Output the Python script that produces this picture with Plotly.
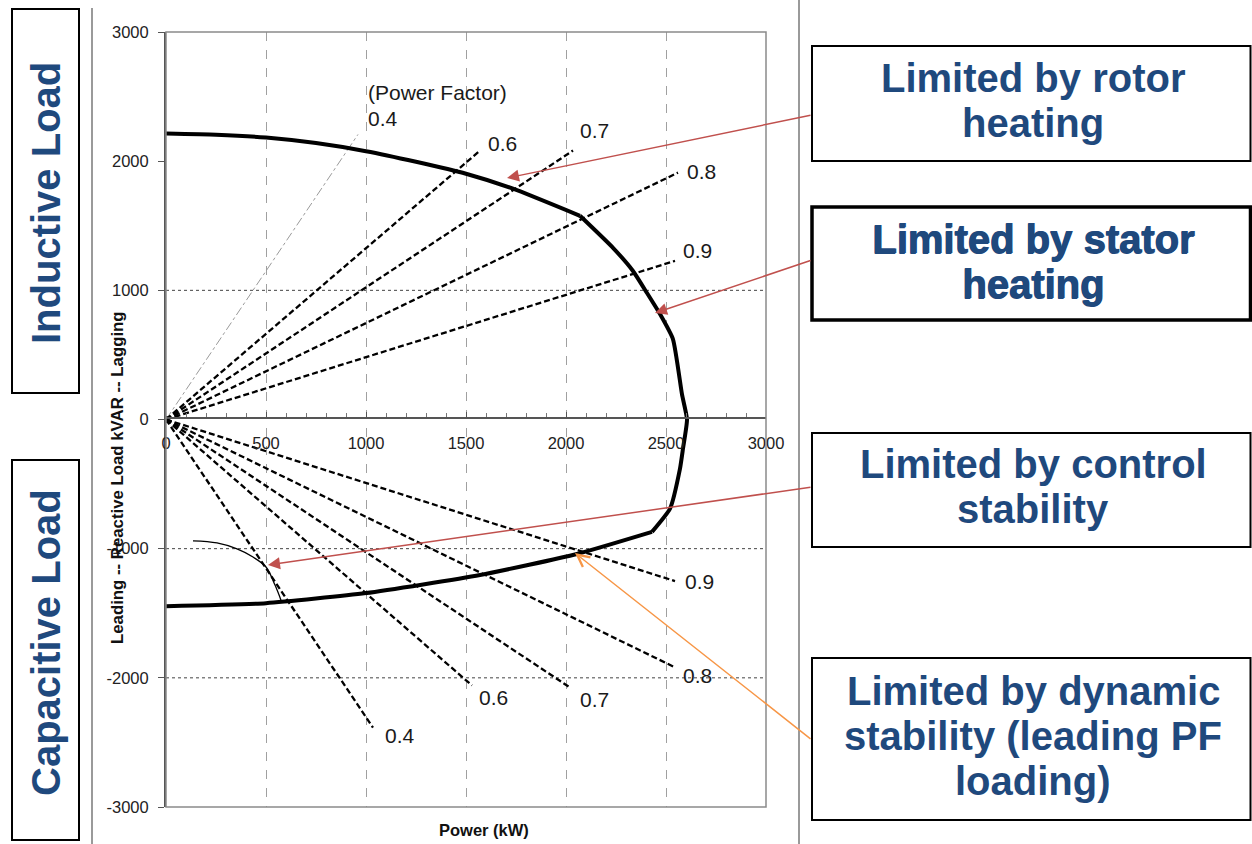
import plotly.graph_objects as go

W, H = 1252, 844

# ---------------- data ----------------
pf_labels = ["0.4", "0.6", "0.7", "0.8", "0.9"]
lag_end_p = [960, 1570, 2035, 2560, 2545]
lag_end_q = [2207, 2082, 2082, 1911, 1228]
lead_end_p = [1035, 1530, 2020, 2545, 2545]
lead_end_q = [-2385, -2059, -2075, -1919, -1251]

# capability curve, in three segments (rotor / stator / control limits)
rotor_p = [0, 250, 500, 750, 1000, 1250, 1500, 1735, 2070]
rotor_q = [2214, 2205, 2183, 2140, 2077, 1995, 1903, 1787, 1577]
stator_p = [2070, 2235, 2335, 2405, 2470, 2535, 2580, 2605, 2585, 2570, 2520, 2430]
stator_q = [1577, 1329, 1150, 979, 816, 621, 194, 0, -225, -380, -690, -870]
control_p = [2430, 2055, 1570, 1000, 500, 0]
control_q = [-870, -1041, -1204, -1344, -1422, -1445]

dyn_p = [135, 255, 355, 435, 500, 545, 575]
dyn_q = [-940, -956, -1002, -1065, -1142, -1282, -1399]

x_ticks = [0, 500, 1000, 1500, 2000, 2500, 3000]
x_tick_text = ["0", "500", "1000", "1500", "2000", "2500", "3000"]
y_ticks = [-3000, -2000, -1000, 0, 1000, 2000, 3000]
y_tick_text = ["-3000", "-2000", "-1000", "0", "1000", "2000", "3000"]
h_grid = [1000, -1000, -2000]

box_texts = [
    ["Limited by rotor", "heating"],
    ["Limited by stator", "heating"],
    ["Limited by control", "stability"],
    ["Limited by dynamic", "stability (leading PF", "loading)"],
]

# ---------------- helpers (pixel -> paper) ----------------
def px(x):
    return x / W

def py(y):
    return 1 - y / H

FONT = "Liberation Sans, Arial, sans-serif"
BLUE = "#1F497D"

fig = go.Figure()

# power factor lines
for i, lab in enumerate(pf_labels):
    if lab == "0.4":
        upper_line = dict(color="#9a9a9a", width=1, dash="dashdot")
    else:
        upper_line = dict(color="black", width=2.3, dash="6px,3px")
    fig.add_trace(go.Scatter(x=[0, lag_end_p[i]], y=[0, lag_end_q[i]], mode="lines",
                             line=upper_line, hoverinfo="skip", showlegend=False))
    fig.add_trace(go.Scatter(x=[0, lead_end_p[i]], y=[0, lead_end_q[i]], mode="lines",
                             line=dict(color="black", width=2.3, dash="6px,3px"),
                             hoverinfo="skip", showlegend=False))

# dynamic stability limit
fig.add_trace(go.Scatter(x=dyn_p, y=dyn_q, mode="lines", line=dict(color="black", width=1.3, shape="spline"),
                         hoverinfo="skip", showlegend=False))
# capability curve
for sp, sq in [(rotor_p, rotor_q), (stator_p, stator_q), (control_p, control_q)]:
    fig.add_trace(go.Scatter(x=sp, y=sq, mode="lines",
                             line=dict(color="black", width=4, shape="spline", smoothing=0.5),
                             hoverinfo="skip", showlegend=False))
# origin
fig.add_trace(go.Scatter(x=[0], y=[0], mode="markers", marker=dict(color="black", size=7),
                         hoverinfo="skip", showlegend=False))

shapes = []
for v in h_grid:
    shapes.append(dict(type="line", xref="x domain", yref="y", x0=0, x1=1, y0=v, y1=v,
                       line=dict(color="#444", width=1, dash="dot"), layer="below"))
shapes.append(dict(type="rect", xref="x domain", yref="y domain", x0=0, x1=1, y0=0, y1=1,
                   line=dict(color="#8a8a8a", width=1.5)))
shapes.append(dict(type="line", xref="paper", yref="paper", x0=px(92), x1=px(92), y0=py(8), y1=py(844),
                   line=dict(color="#9a9a9a", width=2)))
shapes.append(dict(type="line", xref="paper", yref="paper", x0=px(799), x1=px(799), y0=py(0), y1=py(844),
                   line=dict(color="#9a9a9a", width=2)))
for (y0, y1) in [(9, 393), (460, 840)]:
    shapes.append(dict(type="rect", xref="paper", yref="paper", x0=px(12), x1=px(79), y0=py(y1), y1=py(y0),
                       line=dict(color="black", width=2), fillcolor="white", layer="below"))
right_boxes = [(46, 161, 2), (207, 320, 3.5), (433, 547, 2), (658, 820, 2)]
for (y0, y1, lw) in right_boxes:
    shapes.append(dict(type="rect", xref="paper", yref="paper", x0=px(812), x1=px(1250.5), y0=py(y1), y1=py(y0),
                       line=dict(color="black", width=lw), fillcolor="white", layer="below"))

ann = []
lab_font = dict(family=FONT, size=21, color="#1a1a1a")
upper_off = [(8, 16), (6, 7), (5, 20), (7, 1), (6, 10)]
lower_off = [(10, -8), (5, -12), (8, -12), (6, -8), (8, 0)]
for i, lab in enumerate(pf_labels):
    ann.append(dict(x=lag_end_p[i], y=lag_end_q[i], xref="x", yref="y", text=lab, showarrow=False,
                    xanchor="left", yanchor="middle", xshift=upper_off[i][0], yshift=upper_off[i][1], font=lab_font))
    ann.append(dict(x=lead_end_p[i], y=lead_end_q[i], xref="x", yref="y", text=lab, showarrow=False,
                    xanchor="left", yanchor="middle", xshift=lower_off[i][0], yshift=lower_off[i][1], font=lab_font))
ann.append(dict(x=lag_end_p[0], y=lag_end_q[0], xref="x", yref="y", text="(Power Factor)", showarrow=False,
                xanchor="left", yanchor="middle", xshift=8, yshift=42, font=lab_font))

ann.append(dict(x=px(117), y=py(478), xref="paper", yref="paper", text="<b>Leading -- Reactive Load kVAR -- Lagging</b>",
                textangle=-90, showarrow=False, xanchor="center", yanchor="middle",
                font=dict(family=FONT, size=16.8, color="#111")))
ann.append(dict(x=px(484), y=py(830), xref="paper", yref="paper", text="<b>Power (kW)</b>",
                showarrow=False, xanchor="center", yanchor="middle", font=dict(family=FONT, size=16.5, color="#111")))

ann.append(dict(x=px(46), y=py(203), xref="paper", yref="paper", text="<b>Inductive Load</b>", textangle=-90,
                showarrow=False, xanchor="center", yanchor="middle", font=dict(family=FONT, size=40, color=BLUE)))
ann.append(dict(x=px(46), y=py(643), xref="paper", yref="paper", text="<b>Capacitive Load</b>", textangle=-90,
                showarrow=False, xanchor="center", yanchor="middle", font=dict(family=FONT, size=40, color=BLUE)))

line_y = [[78, 123], [239, 284], [464, 509], [691, 736, 781]]
for bi, lines in enumerate(box_texts):
    for li, t in enumerate(lines):
        f = dict(family=FONT, size=40, color=BLUE)
        if bi == 1:
            f["shadow"] = "1px 0px 0px #1F497D, 0px 1px 0px #1F497D"
        ann.append(dict(x=px(1033), y=py(line_y[bi][li]), xref="paper", yref="paper", text="<b>%s</b>" % t,
                        showarrow=False, xanchor="center", yanchor="middle", font=f))

arrows = [((507, 178), (812, 115), "#C0504D", 2),
          ((655, 313), (812, 260), "#C0504D", 2),
          ((268, 565), (812, 487), "#C0504D", 2),
          ((575, 553), (812, 740), "#F79646", 5)]
for (hx, hy), (tx, ty), col, hd in arrows:
    ann.append(dict(x=px(hx), y=py(hy), xref="paper", yref="paper", text="", showarrow=True,
                    ax=tx - hx, ay=ty - hy, axref="pixel", ayref="pixel", arrowcolor=col,
                    arrowwidth=1.5, arrowhead=hd, arrowsize=1.6, standoff=0))

fig.update_layout(
    width=W, height=H, margin=dict(l=0, r=0, t=0, b=0, pad=0, autoexpand=False),
    paper_bgcolor="white", plot_bgcolor="white", showlegend=False,
    shapes=shapes, annotations=ann,
    xaxis=dict(domain=[px(166), px(766)], range=[0, 3000], anchor="free", position=py(418),
               tickvals=x_ticks, ticktext=x_tick_text, showline=True, linecolor="#555", linewidth=1.5,
               ticks="inside", ticklen=5, tickcolor="#555", automargin=False,
               minor=dict(dtick=100, ticks="inside", ticklen=4, tickcolor="#777", showgrid=False),
               showgrid=True, gridcolor="#a0a0a0", griddash="dash", gridwidth=1, zeroline=False,
               tickfont=dict(family=FONT, size=16.5, color="#222"), ticklabelstandoff=10, fixedrange=True),
    yaxis=dict(domain=[py(807), py(32)], range=[-3000, 3000], tickvals=y_ticks, ticktext=y_tick_text,
               showline=True, linecolor="#555", linewidth=2, ticks="outside", ticklen=6, tickcolor="#555",
               showgrid=False, zeroline=False, automargin=False,
               tickfont=dict(family=FONT, size=16.5, color="#222"), ticklabelstandoff=6, fixedrange=True),
)

fig.write_html("out.html", config={"displayModeBar": False},
               post_script="document.body.style.margin='0';document.body.style.padding='0';")
